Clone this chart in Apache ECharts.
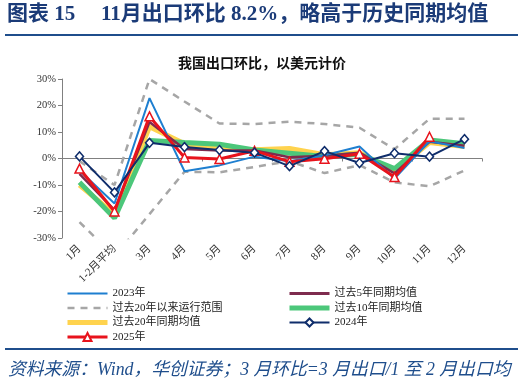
<!DOCTYPE html>
<html>
<head>
<meta charset="utf-8">
<script src="https://cdn.jsdelivr.net/npm/echarts@6/dist/echarts.min.js"></script>
<style>
  html, body { margin: 0; padding: 0; background: #fff; }
  #chart { width: 524px; height: 385px; }
</style>
</head>
<body>
<div id="chart"></div>
<script>
// ── data (percent, month-on-month) ──
const months = ['1月', '1-2月平均', '3月', '4月', '5月', '6月', '7月', '8月', '9月', '10月', '11月', '12月'];
const yTicks = [-30, -20, -10, 0, 10, 20, 30];

const y2023 = [-4.5, -17, 22.8, -4.8, -2.6, 0.7, -1, 1.2, 4.5, -7.6, 6.5, 4];
const avg5 = [-5.8, -19.5, 13.8, 3.6, 3, 3, 0.5, 1, 2.2, -5.6, 6.3, 4.8];
const avg10 = [-9, -22.5, 6.8, 6, 5.4, 3.2, 2, 0.8, 1.6, -3.8, 7, 5.6];
const avg20 = [-10, -21, 12, 5.6, 3.8, 3.3, 3.8, 1.4, 2.2, -4.8, 6, 4.5];
const rangeHigh = [-1, -10, 30, 21.5, 13.2, 13, 13.9, 13, 11.6, 3.5, 15, 15];
const rangeLow = [-24, -37, -21, -5, -5.2, -3.2, -1, -5.5, -2.5, -9, -10.5, -4.5];
const y2024 = [0.8, -12.8, 5.9, 4.3, 3.2, 2.2, -2.9, 2.8, -1.7, 2, 0.7, 7.3];
const y2025 = [-3.8, -20, 15.9, 0.4, -0.2, 2.9, -1.2, -0.1, 1.8, -7, 8.2, null];

const serif = '"Liberation Serif", "Noto Sans CJK SC", serif';
const titleBlue = '#1B3B78';

const chart = echarts.init(document.getElementById('chart'), null, { renderer: 'canvas' });

function plainLine(name, data, color, width, z) {
  return {
    name, type: 'line', data, z,
    symbol: 'none',
    lineStyle: { color, width },
    itemStyle: { color },
    emphasis: { disabled: true }
  };
}

function rangeLine(data) {
  return {
    name: '过去20年以来运行范围', type: 'line', data, z: 1,
    symbol: 'none',
    lineStyle: { color: '#A6A6A6', width: 2.5, type: [7, 6] },
    itemStyle: { color: '#A6A6A6' },
    emphasis: { disabled: true }
  };
}

// legend entries: hide the symbol where the series has none, keep line widths close to the series
const noMark = (name, width) => ({ name, itemStyle: { opacity: 0 }, lineStyle: { width } });

chart.setOption({
  animation: false,
  textStyle: { fontFamily: serif },
  grid: { left: 62, right: 42, top: 79, bottom: 147 },
  // ── page decoration: title, rules, footnote ──
  graphic: [
    { type: 'text', left: 7, top: 4, style: { text: '图表 15', font: 'bold 21px ' + serif, fill: titleBlue } },
    { type: 'text', left: 101, top: 4, style: { text: '11月出口环比 8.2%，略高于历史同期均值', font: 'bold 21px ' + serif, fill: titleBlue } },
    { type: 'line', shape: { x1: 5, y1: 35, x2: 518, y2: 35 }, style: { stroke: '#1F4E8C', lineWidth: 2 } },
    { type: 'text', left: 'center', top: 57, style: { text: '我国出口环比，以美元计价', font: 'bold 14px ' + serif, fill: '#111' } },
    { type: 'line', shape: { x1: 5, y1: 349, x2: 518, y2: 349 }, style: { stroke: '#1F4E8C', lineWidth: 2 } },
    { type: 'text', left: 8, top: 361, style: { text: '资料来源：Wind，华创证券；3 月环比=3 月出口/1 至 2 月出口均', font: 'italic 17.8px ' + serif, fill: '#1F4E8C' } }
  ],
  legend: [
    {
      left: 60, top: 283, orient: 'vertical', itemWidth: 40, itemHeight: 10, itemGap: 3.5,
      textStyle: { fontSize: 11, color: '#222', fontFamily: serif },
      data: [noMark('2023年', 2), noMark('过去20年以来运行范围', 2.5), noMark('过去20年同期均值', 5),
        { name: '2025年', lineStyle: { width: 3 } }]
    },
    {
      left: 282, top: 283, orient: 'vertical', itemWidth: 40, itemHeight: 10, itemGap: 3.5,
      textStyle: { fontSize: 11, color: '#222', fontFamily: serif },
      data: [noMark('过去5年同期均值', 3), noMark('过去10年同期均值', 5), { name: '2024年', lineStyle: { width: 2 } }]
    }
  ],
  xAxis: [
    {
      // labels along the bottom of the plot
      type: 'category', data: months,
      axisLine: { show: false, onZero: false },
      axisTick: { show: false },
      axisLabel: { rotate: 45, margin: 9, color: '#333', fontSize: 11, fontFamily: serif, interval: 0 }
    },
    {
      // axis line through zero
      type: 'category', data: months, position: 'bottom',
      axisLine: { onZero: true, lineStyle: { color: '#808080', width: 1 } },
      axisTick: { show: true, length: 3, lineStyle: { color: '#808080' } },
      axisLabel: { show: false }
    }
  ],
  yAxis: {
    type: 'value', min: yTicks[0], max: yTicks[yTicks.length - 1], interval: 10,
    axisLine: { show: true, lineStyle: { color: '#808080' } },
    axisTick: { show: true, length: 4, lineStyle: { color: '#808080' } },
    splitLine: { show: false },
    axisLabel: { color: '#333', fontSize: 10.5, margin: 6, formatter: (v) => v + '%' }
  },
  series: [
    rangeLine(rangeHigh),
    rangeLine(rangeLow),
    plainLine('过去20年同期均值', avg20, '#FFD34E', 5, 2),
    plainLine('过去10年同期均值', avg10, '#4CC77A', 5, 3),
    plainLine('过去5年同期均值', avg5, '#7E2B4E', 2.5, 4),
    plainLine('2023年', y2023, '#1E7FD0', 2, 5),
    {
      name: '2025年', type: 'line', data: y2025, z: 6,
      symbol: 'triangle', symbolSize: 9,
      lineStyle: { color: '#E8131C', width: 3 },
      itemStyle: { color: '#fff', borderColor: '#E8131C', borderWidth: 1.5 },
      emphasis: { disabled: true }
    },
    {
      name: '2024年', type: 'line', data: y2024, z: 7,
      symbol: 'diamond', symbolSize: [8, 9],
      lineStyle: { color: '#0F2D6B', width: 2 },
      itemStyle: { color: '#fff', borderColor: '#0F2D6B', borderWidth: 1.5 },
      emphasis: { disabled: true }
    }
  ]
});
</script>
</body>
</html>
